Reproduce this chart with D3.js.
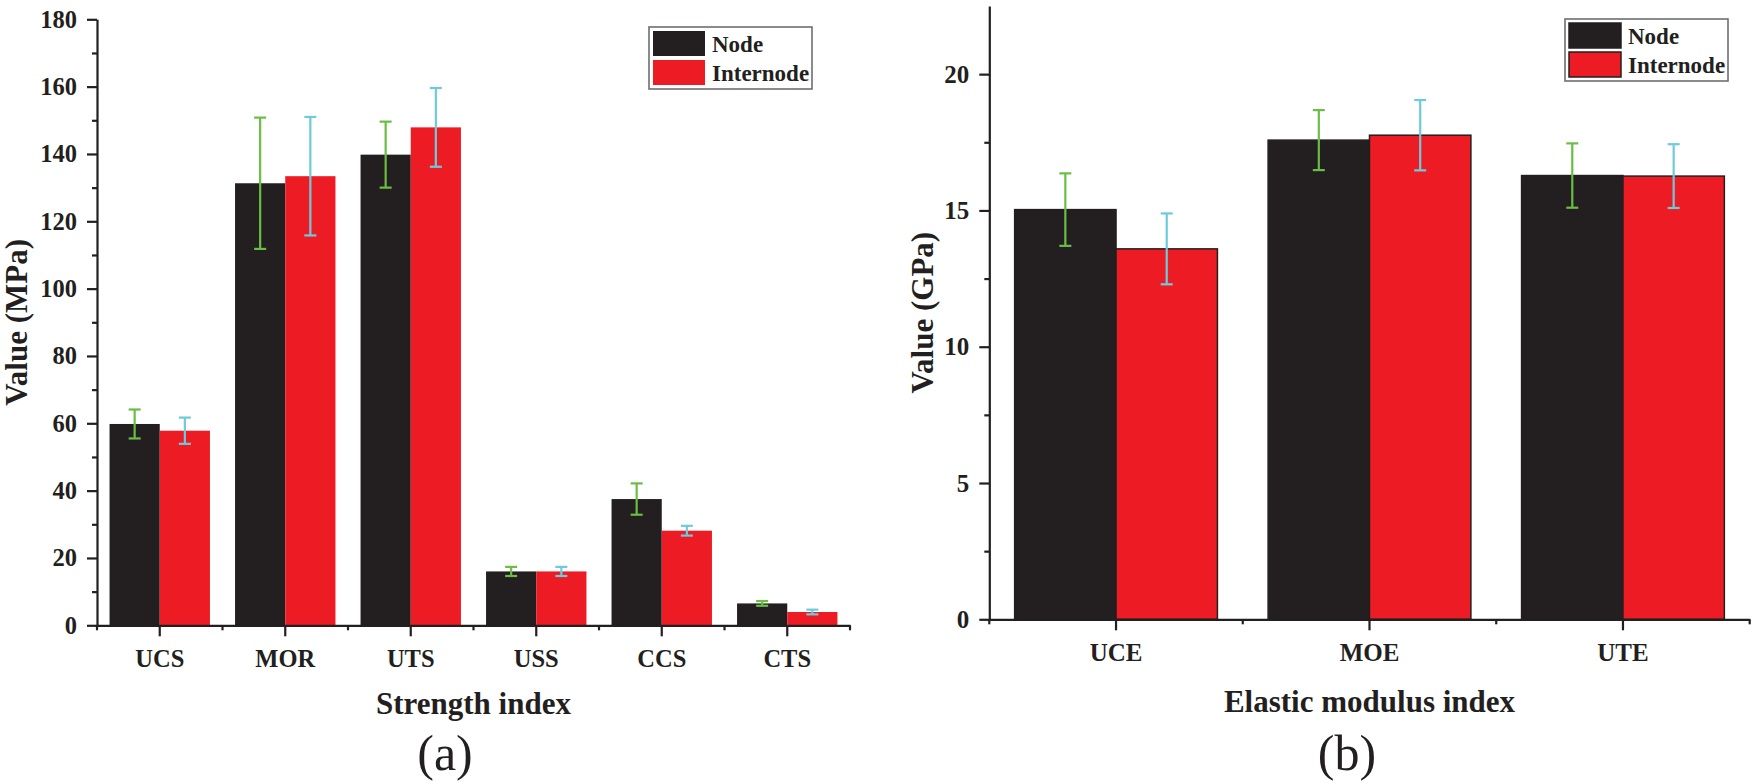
<!DOCTYPE html>
<html>
<head>
<meta charset="utf-8">
<script src="https://cdn.jsdelivr.net/npm/d3@7"></script>
<style>
  html, body { margin: 0; padding: 0; background: #fff; }
  svg { display: block; }
</style>
</head>
<body>
<svg id="chart" width="1757" height="783"></svg>
<script>
// ---- data ----
const seriesNames = ["Node", "Internode"];

const strengthCats = ["UCS", "MOR", "UTS", "USS", "CCS", "CTS"];
const strengthNode = [59.8, 131.3, 139.8, 16.0, 37.5, 6.5];
const strengthNodeErr = [4.3, 19.5, 9.8, 1.35, 4.65, 0.7];
const strengthInter = [57.8, 133.4, 147.9, 16.0, 28.1, 3.95];
const strengthInterErr = [3.9, 17.6, 11.7, 1.35, 1.45, 0.7];
const strengthTicks = [0, 20, 40, 60, 80, 100, 120, 140, 160, 180];
const strengthMinor = [10, 30, 50, 70, 90, 110, 130, 150, 170];

const modulusCats = ["UCE", "MOE", "UTE"];
const modulusNode = [15.03, 17.58, 16.28];
const modulusNodeErr = [1.33, 1.1, 1.18];
const modulusInter = [13.59, 17.76, 16.26];
const modulusInterErr = [1.3, 1.29, 1.17];
const modulusTicks = [0, 5, 10, 15, 20];
const modulusMinor = [2.5, 7.5, 12.5, 17.5];

const barColors = { Node: "#231f20", Internode: "#ed1c24" };
const errColors = { Node: "#6abd45", Internode: "#6dcbdc" };
const ink = "#231f20";
const serif = '"Liberation Serif"';

const svg = d3.select("#chart");

function drawPanel(cfg) {
  const g = svg.append("g");

  const x = d3.scaleBand().domain(cfg.cats).range([cfg.left, cfg.right]);
  const xs = d3
    .scaleBand()
    .domain(seriesNames)
    .range([0, x.bandwidth()])
    .paddingOuter(0.25);
  const y = d3.scaleLinear().domain(cfg.yDomain).range([cfg.bottom, cfg.top]);

  const rows = [];
  cfg.cats.forEach((c, i) => {
    rows.push({ cat: c, s: "Node", v: cfg.node[i], e: cfg.nodeErr[i] });
    rows.push({ cat: c, s: "Internode", v: cfg.inter[i], e: cfg.interErr[i] });
  });

  // bars
  g.append("g")
    .selectAll("rect")
    .data(rows)
    .join("rect")
    .attr("x", (d) => x(d.cat) + xs(d.s))
    .attr("y", (d) => y(d.v))
    .attr("width", xs.bandwidth())
    .attr("height", (d) => y(0) - y(d.v))
    .attr("fill", (d) => barColors[d.s])
    .attr("stroke", cfg.outline ? ink : "none")
    .attr("stroke-width", 1.5);

  // error bars
  const eb = g
    .append("g")
    .selectAll("g")
    .data(rows)
    .join("g")
    .attr("stroke", (d) => errColors[d.s])
    .attr("stroke-width", 2.2);
  const cx = (d) => x(d.cat) + xs(d.s) + xs.bandwidth() / 2;
  eb.append("line")
    .attr("x1", cx)
    .attr("x2", cx)
    .attr("y1", (d) => y(d.v - d.e))
    .attr("y2", (d) => y(d.v + d.e));
  eb.append("line")
    .attr("x1", (d) => cx(d) - 6)
    .attr("x2", (d) => cx(d) + 6)
    .attr("y1", (d) => y(d.v + d.e))
    .attr("y2", (d) => y(d.v + d.e));
  eb.append("line")
    .attr("x1", (d) => cx(d) - 6)
    .attr("x2", (d) => cx(d) + 6)
    .attr("y1", (d) => y(d.v - d.e))
    .attr("y2", (d) => y(d.v - d.e));

  // y axis: minor then major
  g.append("g")
    .attr("transform", `translate(${cfg.left},0)`)
    .call(d3.axisLeft(y).tickValues(cfg.minor).tickSize(5).tickFormat(""))
    .call((a) => a.select(".domain").remove());
  const yAxis = g
    .append("g")
    .attr("transform", `translate(${cfg.left},0)`)
    .call(
      d3
        .axisLeft(y)
        .tickValues(cfg.ticks)
        .tickSize(10)
        .tickSizeOuter(0)
        .tickPadding(10)
        .tickFormat(d3.format("d"))
    );

  // x axis: ticks at category centres, short ticks at boundaries
  const xAxis = g
    .append("g")
    .attr("transform", `translate(0,${cfg.bottom})`)
    .call(d3.axisBottom(x).tickSize(11).tickSizeOuter(0).tickPadding(13));
  const bounds = cfg.cats.map((c) => x(c)).concat([x.range()[1]]);
  xAxis
    .selectAll(".bound")
    .data(bounds)
    .join("line")
    .attr("class", "bound")
    .attr("x1", (d) => d)
    .attr("x2", (d) => d)
    .attr("y1", 0)
    .attr("y2", 5);

  [yAxis, xAxis].forEach((a) => {
    a.attr("font-family", null).attr("font-size", null);
    a.selectAll("text")
      .attr("fill", ink)
      .style("font-family", serif)
      .style("font-size", cfg.tickFont + "px")
      .style("font-weight", "bold");
  });
  g.selectAll("path.domain, line")
    .filter(function () {
      return !this.parentNode.getAttribute("stroke");
    })
    .attr("stroke", ink)
    .attr("stroke-width", 2.2);

  // axis titles
  g.append("text")
    .attr("transform", `translate(${cfg.yTitleX},${(cfg.top + cfg.bottom) / 2}) rotate(-90)`)
    .attr("text-anchor", "middle")
    .attr("fill", ink)
    .style("font-family", serif)
    .style("font-size", "31px")
    .style("font-weight", "bold")
    .text(cfg.yTitle);

  g.append("text")
    .attr("x", (cfg.left + cfg.right) / 2)
    .attr("y", cfg.xTitleY)
    .attr("text-anchor", "middle")
    .attr("fill", ink)
    .style("font-family", serif)
    .style("font-size", "31px")
    .style("font-weight", "bold")
    .text(cfg.xTitle);

  g.append("text")
    .attr("x", cfg.panelX)
    .attr("y", 770)
    .attr("text-anchor", "middle")
    .attr("fill", ink)
    .style("font-family", serif)
    .style("font-size", "50px")
    .text(cfg.panel);

  // legend
  const lg = g.append("g").attr("transform", `translate(${cfg.legend[0]},${cfg.legend[1]})`);
  lg.append("rect")
    .attr("width", 163)
    .attr("height", 62)
    .attr("fill", "#fff")
    .attr("stroke", "#6d6e70")
    .attr("stroke-width", 1.6);
  seriesNames.forEach((s, i) => {
    lg.append("rect")
      .attr("x", 4)
      .attr("y", 4 + i * 29)
      .attr("width", 52)
      .attr("height", 25)
      .attr("fill", barColors[s])
      .attr("stroke", cfg.outline ? ink : "none")
      .attr("stroke-width", 1.5);
    lg.append("text")
      .attr("x", 63)
      .attr("y", 25 + i * 29)
      .attr("fill", ink)
      .style("font-family", serif)
      .style("font-size", "23px")
      .style("font-weight", "bold")
      .text(s);
  });
}

drawPanel({
  cats: strengthCats,
  node: strengthNode,
  nodeErr: strengthNodeErr,
  inter: strengthInter,
  interErr: strengthInterErr,
  ticks: strengthTicks,
  minor: strengthMinor,
  yDomain: [0, 180],
  left: 97,
  right: 850,
  top: 19.3,
  bottom: 625.3,
  outline: false,
  tickFont: 24.5,
  yTitle: "Value (MPa)",
  yTitleX: 27,
  xTitle: "Strength index",
  xTitleY: 714,
  panel: "(a)",
  panelX: 445,
  legend: [649, 27],
});

drawPanel({
  cats: modulusCats,
  node: modulusNode,
  nodeErr: modulusNodeErr,
  inter: modulusInter,
  interErr: modulusInterErr,
  ticks: modulusTicks,
  minor: modulusMinor,
  yDomain: [0, 22.5],
  left: 989.3,
  right: 1749.7,
  top: 6,
  bottom: 619.3,
  outline: true,
  tickFont: 25,
  yTitle: "Value (GPa)",
  yTitleX: 933,
  xTitle: "Elastic modulus index",
  xTitleY: 712,
  panel: "(b)",
  panelX: 1347,
  legend: [1565, 19],
});
</script>
</body>
</html>
